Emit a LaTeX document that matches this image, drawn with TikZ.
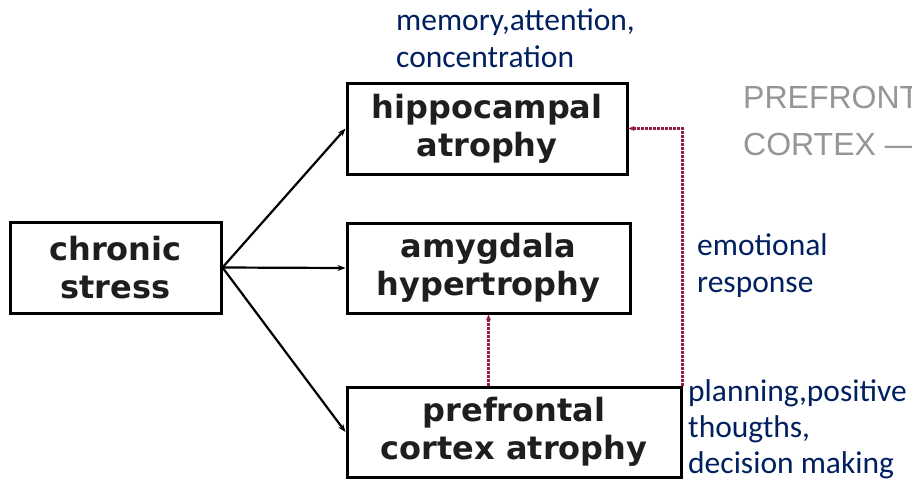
\documentclass[tikz,border=0pt]{standalone}
\usepackage{fontspec}
\setmainfont{Carlito}
\newfontfamily\boxfont{DejaVu Sans}
\newfontfamily\grayfont{Liberation Sans}
\usetikzlibrary{arrows.meta}
\definecolor{navy}{RGB}{0,32,96}
\definecolor{dred}{RGB}{150,30,70}
\definecolor{boxtext}{RGB}{30,30,30}
\definecolor{ghost}{RGB}{150,150,150}
\begin{document}
\begin{tikzpicture}[x=1pt,y=-1pt,
  stressbox/.style={draw=black, line width=3pt, inner sep=0pt, align=center,
    font=\boxfont\bfseries\fontsize{32}{38}\selectfont, text=boxtext},
  note/.style={text=navy, font=\fontsize{31.5}{37}\selectfont, align=left,
    inner sep=0pt, anchor=base west},
  ghosttext/.style={text=ghost, font=\grayfont\fontsize{32}{47}\selectfont,
    align=left, inner sep=0pt, anchor=base west},
  solidarrow/.style={draw=black, line width=2.2pt, -{Stealth[length=8pt,width=6pt]}},
  dotarrow/.style={draw=dred, line width=2.2pt, dash pattern=on 2.5pt off 1.5pt,
    -{Stealth[length=6pt,width=5pt]}}
]
\fill[white] (0,0) rectangle (912,482);
\useasboundingbox (0,0) rectangle (912,482);

\node[stressbox, minimum width=211pt, minimum height=91pt] (cs) at (115.5,267.5) {chronic\\stress};
\node[stressbox, minimum width=280pt, minimum height=91pt] (hip) at (487,128.5) {hippocampal\\atrophy};
\node[stressbox, minimum width=283pt, minimum height=90pt] (amy) at (488.5,268) {amygdala\\hypertrophy};
\node[stressbox, minimum width=334pt, minimum height=90pt] (pfc) at (514,432) {prefrontal\\cortex atrophy};

\draw[solidarrow] (cs.east) -- (hip.west);
\draw[solidarrow] (cs.east) -- (amy.west);
\draw[solidarrow] (cs.east) -- (pfc.west);

\draw[dotarrow] (pfc.north east) |- (hip.east);
\draw[dotarrow] (pfc.north -| amy.south) -- (amy.south);

\node[note] (mem) at (396,67) {memory,attention,\\concentration};
\node[note] (emo) at (697,292) {emotional\\response};
\node[note, font=\fontsize{31.5}{36}\selectfont] (plan) at (688,473) {planning,positive\\thougths,\\decision making};

\begin{scope}
  \clip (0,0) rectangle (912,482);
  \node[ghosttext] (ghost) at (743,155) {PREFRONT\\CORTEX —};
\end{scope}
\end{tikzpicture}
\end{document}
